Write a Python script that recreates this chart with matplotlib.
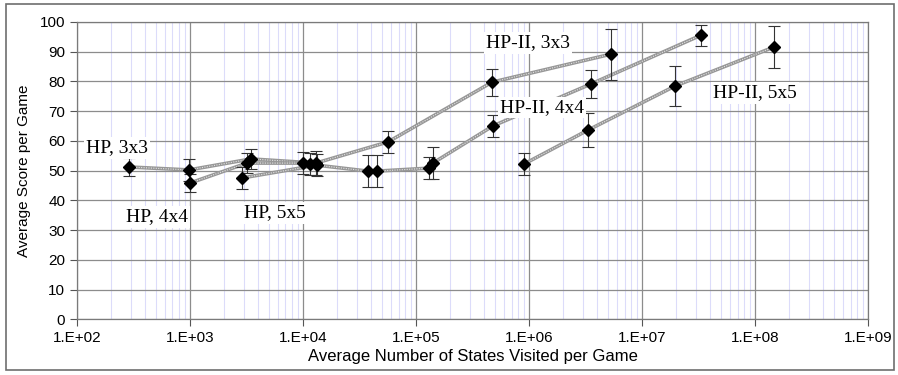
import matplotlib.pyplot as plt
import numpy as np
from matplotlib.ticker import FuncFormatter, FixedLocator, NullFormatter
from matplotlib.patches import Rectangle

# four connected runs of points (states visited, score, error half-width)
run1_x = [288, 980, 3470, 13000, 56500, 471000, 5.3e6]
run1_y = [51.2, 50.2, 53.9, 52.5, 59.6, 79.7, 89.1]
run1_e = [2.9, 3.6, 3.4, 4.0, 3.8, 4.5, 8.6]

run2_x = [1000, 3190, 10000, 11500]
run2_y = [45.8, 52.5, 52.5, 52.2]
run2_e = [3.1, 3.4, 3.7, 3.6]

run3_x = [2880, 13300, 37600, 45200, 130000, 141000, 480000, 3.54e6, 3.33e7]
run3_y = [47.5, 51.8, 49.8, 49.8, 50.8, 52.5, 65.0, 79.1, 95.5]
run3_e = [3.6, 3.6, 5.3, 5.4, 3.7, 5.4, 3.6, 4.6, 3.5]

run4_x = [904000, 3.33e6, 1.96e7, 1.47e8]
run4_y = [52.2, 63.6, 78.4, 91.5]
run4_e = [3.8, 5.7, 6.6, 7.0]

labels = ["HP, 3x3", "HP, 4x4", "HP, 5x5", "HP-II, 3x3", "HP-II, 4x4", "HP-II, 5x5"]
label_x = [226, 511, 5650, 9.8e5, 1.3e6, 1.0e8]
label_y = [57.6, 34.4, 35.7, 92.9, 71.3, 76.1]

decades = [1e2, 1e3, 1e4, 1e5, 1e6, 1e7, 1e8, 1e9]

plt.rcParams['font.family'] = ['Liberation Sans', 'DejaVu Sans']

fig = plt.figure(figsize=(8.98, 3.75), dpi=100)
ax = fig.add_axes([0.0857, 0.1485, 0.881, 0.7935])

runs = [(run1_x, run1_y, run1_e), (run2_x, run2_y, run2_e),
        (run3_x, run3_y, run3_e), (run4_x, run4_y, run4_e)]
for xs, ys, es in runs:
    ax.plot(xs, ys, color='#979797', lw=2.6, zorder=3, solid_capstyle='butt')
    ax.plot(xs, ys, color='#e4e4e4', lw=0.8, ls=(0, (1, 1.2)), zorder=3)
    ax.errorbar(xs, ys, yerr=es, fmt='none', ecolor='#333333', elinewidth=0.8,
                capsize=4, capthick=0.8, zorder=4)
    ax.plot(xs, ys, 'D', color='black', ms=6.5, zorder=5)

for t, lx, ly in zip(labels, label_x, label_y):
    ax.text(lx, ly, t, family='Liberation Serif', fontsize=14, ha='center', va='center',
            zorder=6, bbox=dict(facecolor='white', edgecolor='none', pad=1.5))

ax.set_xscale('log')
ax.set_xlim(1e2, 1e9)
ax.set_ylim(0, 100)
ax.set_yticks(np.arange(0, 101, 10))
minors = [m * d for d in decades[:-1] for m in range(2, 10)]
ax.xaxis.set_major_locator(FixedLocator(decades))
ax.xaxis.set_minor_locator(FixedLocator(minors))
ax.xaxis.set_minor_formatter(NullFormatter())
ax.xaxis.set_major_formatter(FuncFormatter(lambda v, p: "1.E+%02d" % int(round(np.log10(v)))))
ax.tick_params(axis='x', which='minor', length=0)
ax.tick_params(axis='both', which='major', length=5, width=0.8, color='#555555',
               labelsize=11, direction='out')

ax.grid(True, which='major', color='#8c8c8c', lw=0.9, zorder=0)
ax.grid(True, which='minor', axis='x', color='#dcdcfa', lw=0.8, zorder=0)
ax.set_axisbelow(True)
for s in ax.spines.values():
    s.set_color('#7a7a7a')
    s.set_linewidth(0.9)

ax.set_xlabel('Average Number of States Visited per Game', fontsize=12, labelpad=3)
ax.set_ylabel('Average Score per Game', fontsize=11, labelpad=6)

fig.patches.append(Rectangle((0.007, 0.013), 0.988, 0.976, transform=fig.transFigure,
                             fill=False, edgecolor='#6e6e6e', lw=1.2))

fig.savefig('out.png', dpi=100)
